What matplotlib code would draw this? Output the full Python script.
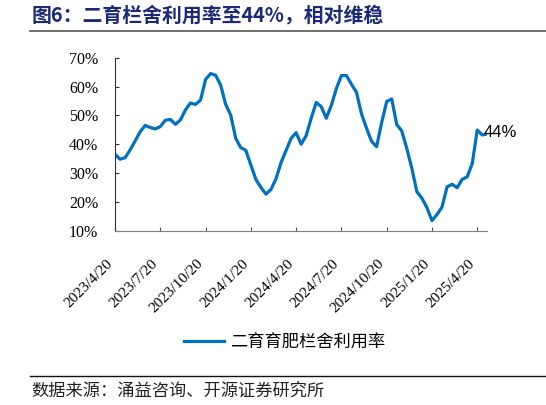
import numpy as np
import matplotlib
matplotlib.use("Agg")
from matplotlib import pyplot as plt
from matplotlib.lines import Line2D
from matplotlib.transforms import ScaledTranslation

# 二育栏舍利用率 (%), ten-day data from 2023/4/20 to 2025/5/10
usage_rate = [
    36.5, 34.8, 35.3, 38.0, 41.1, 44.3, 46.5, 45.8, 45.3, 46.1,
    48.3, 48.6, 46.9, 48.4, 51.9, 54.3, 53.8, 55.3, 62.4, 64.5,
    63.9, 60.5, 53.8, 50.1, 42.0, 38.8, 37.9, 32.8, 27.8, 25.0,
    22.7, 24.3, 28.0, 33.6, 37.8, 42.0, 44.0, 40.0, 43.0, 49.0,
    54.5, 53.0, 49.0, 53.5, 59.3, 63.8, 63.8, 60.8, 58.0, 50.5,
    45.5, 41.0, 39.1, 47.5, 54.8, 55.7, 46.8, 44.6, 38.5, 31.6,
    23.5, 21.3, 18.0, 13.5, 15.6, 18.2, 25.2, 26.1, 24.9, 27.8,
    28.7, 33.2, 44.9, 43.2, 43.6,
]
tick_labels = [
    "2023/4/20", "2023/7/20", "2023/10/20", "2024/1/20", "2024/4/20",
    "2024/7/20", "2024/10/20", "2025/1/20", "2025/4/20",
]
y_ticks = [10, 20, 30, 40, 50, 60, 70]
series_name = "二育育肥栏舍利用率"
title = "图6：二育栏舍利用率至44%，相对维稳"
source = "数据来源：涌益咨询、开源证券研究所"

cjk = ["Noto Sans CJK SC", "DejaVu Sans"]
serif = "Liberation Serif"
blue = "#0070C0"

fig = plt.figure(figsize=(5.46, 4.05), dpi=100)
ax = fig.add_axes([0.2106, 0.4304, 0.8925 - 0.2106, 0.8575 - 0.4304])

x = np.arange(len(usage_rate))
(line,) = ax.plot(x, usage_rate, color=blue, lw=2.3, solid_joinstyle="round")

ax.set_xlim(0, len(usage_rate) - 1)
ax.set_ylim(10, 70)
ax.set_yticks(y_ticks)
ax.set_yticklabels([f"{v}%" for v in y_ticks], fontfamily=serif, fontsize=11.5)
ax.set_xticks(np.arange(len(tick_labels)) * 9)
ax.set_xticklabels(
    tick_labels, fontfamily=serif, fontsize=11, rotation=45, ha="right", va="top"
)
shift = ScaledTranslation(3 / 100, 0, fig.dpi_scale_trans)
for lbl in ax.get_xticklabels():
    lbl.set_transform(lbl.get_transform() + shift)

for side in ["top", "right"]:
    ax.spines[side].set_visible(False)
ax.spines["left"].set_color("#333333")
ax.spines["bottom"].set_color("#808080")
ax.tick_params(axis="y", direction="in", length=3, color="#333333", pad=12)
ax.tick_params(axis="x", direction="in", length=3, color="#555555", pad=19)

# last value label
ax.annotate(
    f"{usage_rate[-1]:.0f}%",
    (x[-1], usage_rate[-1]),
    xytext=(-3, 1),
    textcoords="offset points",
    ha="left",
    va="center",
    fontfamily="Liberation Sans",
    fontsize=12,
    annotation_clip=False,
)

fig.legend(
    handles=[line],
    labels=[series_name],
    loc="center",
    bbox_to_anchor=(0.5218, 1 - 342.3 / 405),
    frameon=False,
    handlelength=2.3,
    handletextpad=0.35,
    prop={"family": cjk, "size": 12.4},
)

fig.text(
    31.7 / 546, 1 - 15 / 405, title, fontfamily=cjk, fontsize=14.3,
    fontweight="bold", color="#1B2A78", va="center", ha="left",
)
fig.add_artist(
    Line2D([30 / 546, 1.0], [1 - 31 / 405] * 2, color="#555555", lw=1.2,
           transform=fig.transFigure)
)
fig.add_artist(
    Line2D([30 / 546, 1.0], [1 - 375.7 / 405] * 2, color="#111111", lw=1.0,
           transform=fig.transFigure)
)
fig.text(
    31.7 / 546, 1 - 391.5 / 405, source, fontfamily=cjk, fontsize=12.4,
    color="#222222", va="center", ha="left",
)

fig.savefig("out.png", dpi=100)
